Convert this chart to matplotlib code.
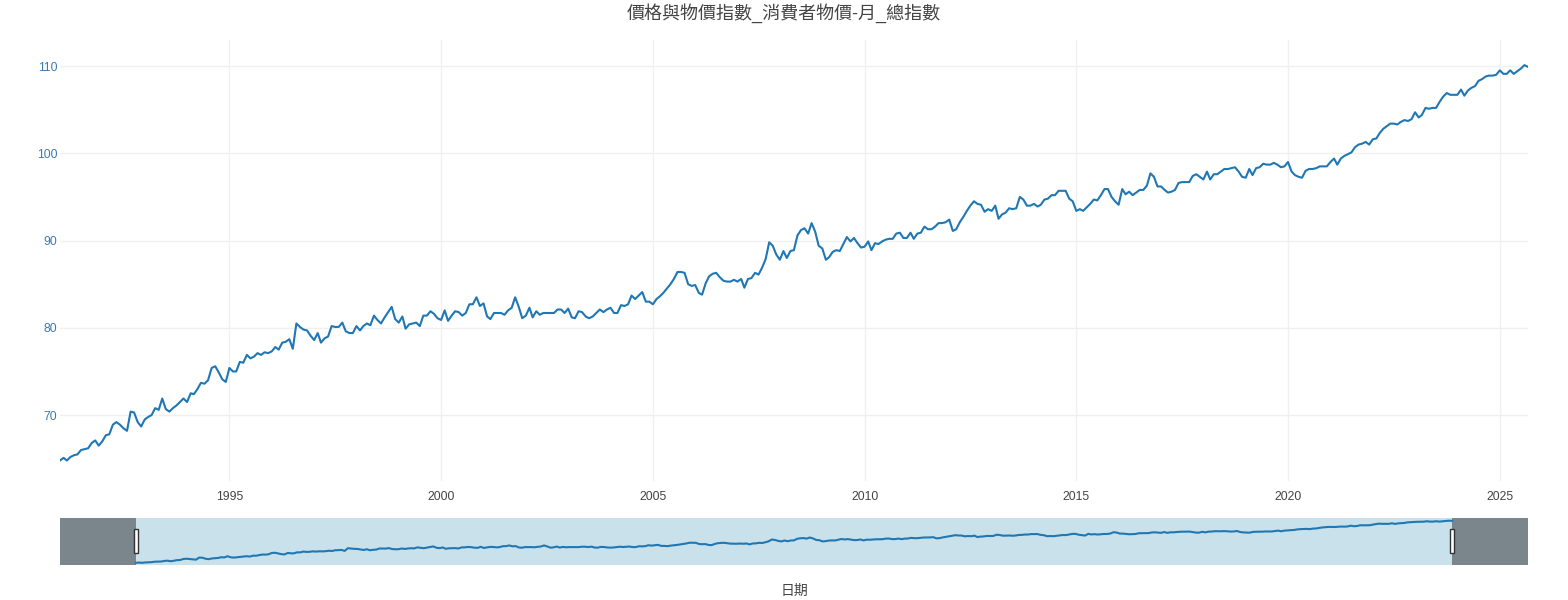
"""Taiwan CPI (monthly, general index) line chart with a plotly-like range slider."""
import matplotlib
matplotlib.use("Agg")
import matplotlib.pyplot as plt
import matplotlib.dates as mdates
import matplotlib.transforms as mtransforms
from matplotlib.patches import Rectangle
import numpy as np
import pandas as pd

plt.rcParams["font.family"] = ["Liberation Sans", "Noto Sans CJK TC", "DejaVu Sans"]

TITLE = "價格與物價指數_消費者物價-月_總指數"
XLABEL = "日期"
START = "1991-01-01"

# monthly index values, Jan 1991 .. Sep 2025
cpi = [
    64.8, 65.1, 64.8, 65.2, 65.4, 65.5, 66.0, 66.1, 66.2, 66.8, 67.1, 66.5,   # 1991
    67.0, 67.7, 67.8, 68.9, 69.2, 68.9, 68.5, 68.2, 70.4, 70.3, 69.2, 68.7,   # 1992
    69.5, 69.8, 70.0, 70.8, 70.6, 71.9, 70.7, 70.4, 70.8, 71.1, 71.5, 71.9,   # 1993
    71.5, 72.5, 72.4, 73.0, 73.7, 73.6, 74.0, 75.4, 75.6, 74.9, 74.1, 73.8,   # 1994
    75.4, 75.0, 75.0, 76.1, 76.0, 76.9, 76.5, 76.7, 77.1, 76.9, 77.2, 77.1,   # 1995
    77.3, 77.8, 77.5, 78.3, 78.4, 78.7, 77.6, 80.5, 80.1, 79.8, 79.7, 79.1,   # 1996
    78.6, 79.4, 78.3, 78.8, 79.0, 80.2, 80.1, 80.1, 80.6, 79.6, 79.4, 79.4,   # 1997
    80.2, 79.7, 80.2, 80.5, 80.3, 81.4, 80.9, 80.5, 81.2, 81.8, 82.4, 81.0,   # 1998
    80.6, 81.3, 79.9, 80.4, 80.5, 80.6, 80.2, 81.4, 81.4, 81.9, 81.6, 81.1,   # 1999
    80.9, 82.0, 80.8, 81.4, 81.9, 81.8, 81.4, 81.7, 82.7, 82.7, 83.5, 82.5,   # 2000
    82.8, 81.3, 81.0, 81.7, 81.7, 81.7, 81.5, 82.0, 82.3, 83.5, 82.4, 81.1,   # 2001
    81.4, 82.3, 81.2, 81.9, 81.5, 81.7, 81.7, 81.7, 81.7, 82.1, 82.1, 81.7,   # 2002
    82.2, 81.2, 81.1, 81.9, 81.8, 81.3, 81.1, 81.3, 81.7, 82.1, 81.8, 82.1,   # 2003
    82.3, 81.7, 81.7, 82.6, 82.5, 82.7, 83.7, 83.3, 83.7, 84.1, 83.0, 83.0,   # 2004
    82.7, 83.3, 83.6, 84.0, 84.5, 85.0, 85.6, 86.4, 86.4, 86.3, 85.0, 84.8,   # 2005
    84.9, 84.0, 83.8, 85.1, 85.9, 86.2, 86.3, 85.8, 85.4, 85.3, 85.3, 85.5,   # 2006
    85.3, 85.6, 84.6, 85.6, 85.7, 86.3, 86.1, 86.9, 87.9, 89.8, 89.4, 88.4,   # 2007
    87.8, 88.8, 88.0, 88.8, 88.9, 90.6, 91.2, 91.4, 90.8, 92.0, 91.0, 89.4,   # 2008
    89.1, 87.8, 88.1, 88.7, 88.9, 88.8, 89.6, 90.4, 89.9, 90.3, 89.7, 89.2,   # 2009
    89.3, 89.9, 88.9, 89.7, 89.6, 89.9, 90.1, 90.2, 90.2, 90.8, 90.9, 90.3,   # 2010
    90.3, 90.9, 90.2, 90.8, 90.9, 91.6, 91.3, 91.3, 91.6, 92.0, 92.0, 92.1,   # 2011
    92.4, 91.1, 91.3, 92.1, 92.7, 93.4, 94.0, 94.5, 94.2, 94.1, 93.3, 93.6,   # 2012
    93.4, 94.0, 92.5, 93.0, 93.2, 93.7, 93.6, 93.7, 95.0, 94.7, 94.0, 94.0,   # 2013
    94.2, 93.9, 94.1, 94.7, 94.8, 95.2, 95.2, 95.7, 95.7, 95.7, 94.8, 94.5,   # 2014
    93.4, 93.6, 93.4, 93.8, 94.2, 94.7, 94.6, 95.2, 95.9, 95.9, 95.0, 94.5,   # 2015
    94.1, 95.9, 95.3, 95.6, 95.2, 95.5, 95.8, 95.8, 96.3, 97.7, 97.3, 96.2,   # 2016
    96.2, 95.8, 95.5, 95.6, 95.8, 96.6, 96.7, 96.7, 96.7, 97.4, 97.6, 97.3,   # 2017
    97.0, 97.9, 97.0, 97.6, 97.6, 97.9, 98.2, 98.2, 98.3, 98.4, 97.9, 97.3,   # 2018
    97.2, 98.2, 97.5, 98.3, 98.4, 98.8, 98.7, 98.7, 98.9, 98.7, 98.4, 98.5,   # 2019
    99.0, 97.9, 97.5, 97.3, 97.2, 98.0, 98.2, 98.2, 98.3, 98.5, 98.5, 98.5,   # 2020
    99.0, 99.4, 98.7, 99.4, 99.7, 99.9, 100.1, 100.7, 101.0, 101.1, 101.3, 101.0,  # 2021
    101.6, 101.7, 102.3, 102.8, 103.1, 103.4, 103.4, 103.3, 103.6, 103.8, 103.7, 103.9,  # 2022
    104.7, 104.1, 104.4, 105.2, 105.1, 105.2, 105.2, 105.9, 106.5, 106.9, 106.7, 106.7,  # 2023
    106.7, 107.3, 106.6, 107.2, 107.5, 107.7, 108.3, 108.5, 108.8, 108.9, 108.9, 109.0,  # 2024
    109.5, 109.1, 109.1, 109.5, 109.1, 109.4, 109.7, 110.1, 109.9,                       # 2025
]
yticks = [70, 80, 90, 100, 110]

LINE = "#1f77b4"
YTICK = "#3b7bb3"
GRID = "#f0f0f0"
TXT = "#444444"

dates = pd.date_range(START, periods=len(cpi), freq="MS")
vals = np.array(cpi)

W, H = 1568, 600
fig = plt.figure(figsize=(W / 100, H / 100), dpi=100)
L, R = 60, 1528
ax = fig.add_axes([L / W, 1 - 481 / H, (R - L) / W, 441 / H])
sl = fig.add_axes([L / W, 1 - 565 / H, (R - L) / W, 47 / H])

ylo, yhi = 62.45, 112.98

# --- main plot
ax.plot(dates, vals, color=LINE, lw=1.5, solid_joinstyle="round")
ax.set_xlim(dates[0], dates[-1])
ax.set_ylim(ylo, yhi)
ax.set_yticks(yticks)
ax.xaxis.set_major_locator(mdates.YearLocator(5))
ax.xaxis.set_major_formatter(mdates.DateFormatter("%Y"))
ax.grid(True, color=GRID, lw=1)
ax.set_axisbelow(True)
for s in ax.spines.values():
    s.set_visible(False)
ax.tick_params(axis="x", length=0, pad=7, labelsize=8.8, labelcolor=TXT)
ax.tick_params(axis="y", length=0, pad=2, labelsize=8.8, labelcolor=YTICK)

# --- range slider (full range padded by two years on each side)
pad = pd.DateOffset(years=2)
sl.set_facecolor("#c8e1ea")
sl.plot(dates, vals, color=LINE, lw=1.5)
sl.set_xlim(dates[0] - pad, dates[-1] + pad)
sl.set_ylim(ylo, yhi)
sl.axvspan(dates[0] - pad, dates[0], color="#7a868c", lw=0)
sl.axvspan(dates[-1], dates[-1] + pad, color="#7a868c", lw=0)
sl.set_xticks([])
sl.set_yticks([])
for s in sl.spines.values():
    s.set_visible(False)
trans = mtransforms.blended_transform_factory(sl.transData, sl.transAxes)
hw = pd.Timedelta(days=19)
for d in (dates[0], dates[-1]):
    x0 = mdates.date2num(d - hw)
    x1 = mdates.date2num(d + hw)
    sl.add_patch(Rectangle((x0, 0.25), x1 - x0, 0.52, transform=trans,
                           facecolor="white", edgecolor="#333333", lw=1, zorder=5))

fig.text(0.5, 1 - 13 / H, TITLE, ha="center", va="center", fontsize=13, color=TXT)
fig.text((L + R) / 2 / W, 1 - 591 / H, XLABEL, ha="center", va="center", fontsize=10, color=TXT)

fig.savefig("out.png", dpi=100)
